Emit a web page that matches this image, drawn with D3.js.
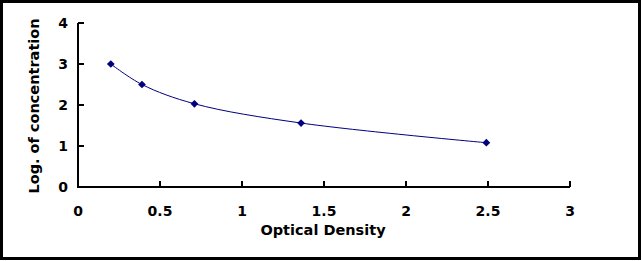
<!DOCTYPE html>
<html>
<head>
<meta charset="utf-8">
<script src="https://cdn.jsdelivr.net/npm/d3@7"></script>
<style>
  body { margin: 0; background: #fff; }
  svg { display: block; }
</style>
</head>
<body>
<svg id="chart" width="642" height="261"></svg>
<script>
const od = [0.2, 0.39, 0.71, 1.36, 2.49]
const logConc = [3.0, 2.5, 2.03, 1.56, 1.08]
const xTicks = [0, 0.5, 1, 1.5, 2, 2.5, 3]
const yTicks = [0, 1, 2, 3, 4]

const svg = d3.select('#chart')
const font = '"DejaVu Sans", Verdana, sans-serif'

// outer frame
svg.append('rect')
    .attr('x', 1.5).attr('y', 1.5)
    .attr('width', 638).attr('height', 257)
    .style('fill', '#fff')
    .style('stroke', '#000')
    .style('stroke-width', 3)

const x = d3.scaleLinear().domain([0, 3]).range([78, 570])
const y = d3.scaleLinear().domain([0, 4]).range([187, 23])

const g = svg.append('g')

// x axis
g.append('line')
    .attr('x1', x(0)).attr('x2', x(3))
    .attr('y1', y(0)).attr('y2', y(0))
    .style('stroke', '#000').style('stroke-width', 2)
g.selectAll('line.xt')
    .data(xTicks.slice(1))
    .enter().append('line')
    .attr('class', 'xt')
    .attr('x1', d => x(d)).attr('x2', d => x(d))
    .attr('y1', y(0)).attr('y2', y(0) - 6)
    .style('stroke', '#000').style('stroke-width', 2)
g.selectAll('text.xl')
    .data(xTicks)
    .enter().append('text')
    .attr('class', 'xl')
    .attr('x', d => x(d)).attr('y', 216)
    .attr('text-anchor', 'middle')
    .style('font-family', font).style('font-weight', 'bold').style('font-size', '14px')
    .text(d => d)

// y axis
g.append('line')
    .attr('x1', x(0)).attr('x2', x(0))
    .attr('y1', y(0) + 1).attr('y2', y(4))
    .style('stroke', '#000').style('stroke-width', 2)
g.selectAll('line.yt')
    .data(yTicks.slice(1))
    .enter().append('line')
    .attr('class', 'yt')
    .attr('x1', x(0)).attr('x2', x(0) + 6)
    .attr('y1', d => y(d)).attr('y2', d => y(d))
    .style('stroke', '#000').style('stroke-width', 2)
g.selectAll('text.yl')
    .data(yTicks)
    .enter().append('text')
    .attr('class', 'yl')
    .attr('x', 68).attr('y', d => y(d) + 5)
    .attr('text-anchor', 'end')
    .style('font-family', font).style('font-weight', 'bold').style('font-size', '14px')
    .text(d => d)

// axis titles
g.append('text')
    .attr('x', 323).attr('y', 235)
    .attr('text-anchor', 'middle')
    .style('font-family', font).style('font-weight', 'bold').style('font-size', '14.5px')
    .text('Optical Density')
g.append('text')
    .attr('transform', 'translate(39, 106)rotate(-90)')
    .attr('text-anchor', 'middle')
    .style('font-family', font).style('font-weight', 'bold').style('font-size', '14.5px')
    .text('Log. of concentration')

// curve
const pts = od.map((d, i) => [d, logConc[i]])
g.append('path')
    .attr('d', d3.line().x(d => x(d[0])).y(d => y(d[1])).curve(d3.curveCatmullRom.alpha(0.5))(pts))
    .style('fill', 'none')
    .style('stroke', '#000080')
    .style('stroke-width', 1)

g.selectAll('path.pt')
    .data(pts)
    .enter().append('path')
    .attr('class', 'pt')
    .attr('d', d3.symbol(d3.symbolSquare, 30))
    .attr('transform', d => `translate(${x(d[0])}, ${y(d[1])})rotate(45)`)
    .style('fill', '#000080')
</script>
</body>
</html>
